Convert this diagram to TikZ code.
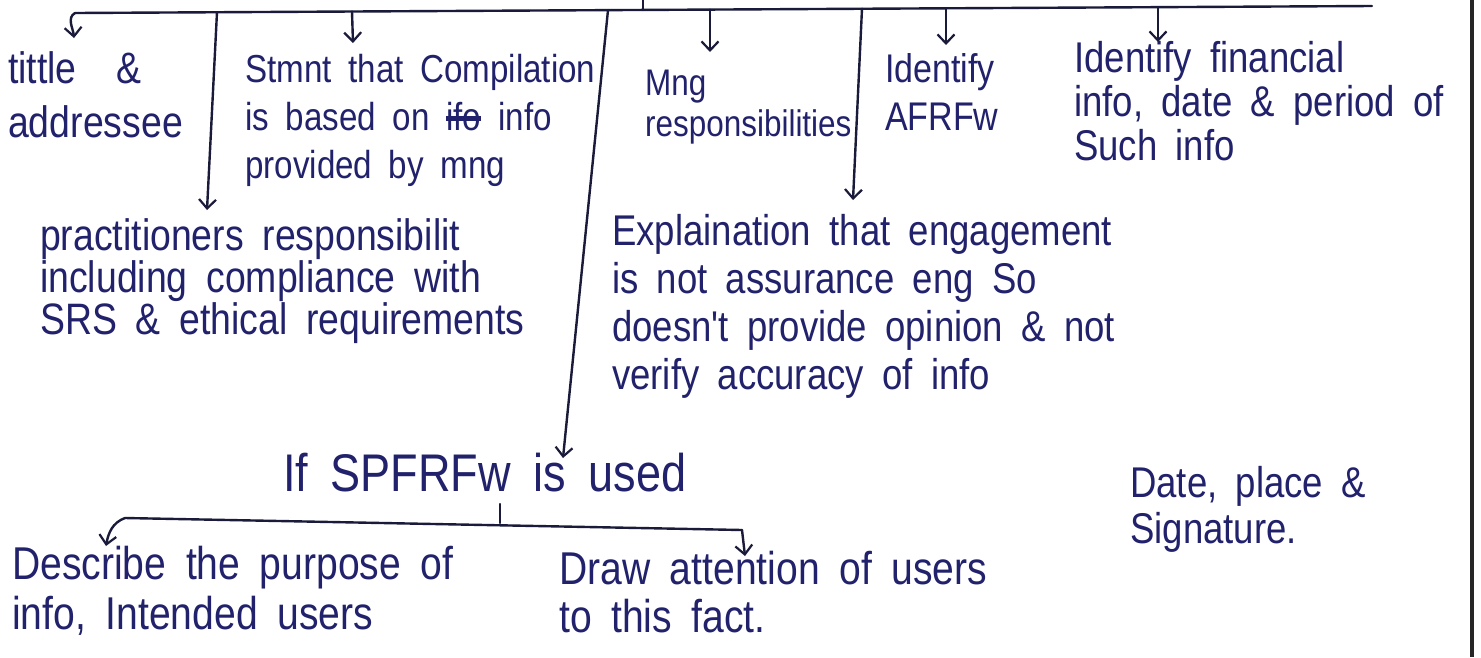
\documentclass[tikz,border=0pt]{standalone}
\usepackage{fontspec}
\setmainfont{Liberation Sans}
\newfontfamily\hand[FakeStretch=0.85,WordSpace=1.8]{Liberation Sans}
\usetikzlibrary{arrows.meta}
\definecolor{ink}{RGB}{34,34,108}
\definecolor{pen}{RGB}{26,26,58}
\newcommand\mystk[1]{\setbox0\hbox{#1}\rlap{\raisebox{0.25em}{\rule{\wd0}{0.12em}}}\box0}
\tikzset{
  hw/.style 2 args={font=\hand\fontsize{#1}{#2}\selectfont, text=ink, align=left, anchor=north west, inner sep=0pt},
  ln/.style={draw=pen, line width=2.4pt, line cap=round, line join=round},
  arr/.style={ln, -{Straight Barb[length=9pt,width=17pt,line width=2.2pt]}},
}
\begin{document}
\begin{tikzpicture}[x=1pt,y=-1pt]
\fill[white] (0,0) rectangle (1481,657);
\useasboundingbox (0,0) rectangle (1481,657);

% text nodes (positions: top of first line = baseline - 0.73*size)
\node[hw={44}{54}] (tit) at (8,51) {tittle\hspace{0.9em}\&\\addressee};
\node[hw={39}{48}] (stm) at (245,54) {Stmnt that Compilation\\is based on \mystk{ifo}\hspace{0.45em}info\\provided by mng};
\node[hw={37}{41}] (mng) at (645,70) {Mng\\responsibilities};
\node[hw={40}{48}] (ida) at (885,53) {Identify\\AFRFw};
\node[hw={43}{44}] (idf) at (1074,41) {Identify financial\\info, date \& period of\\Such info};
\node[hw={44}{42}] (pra) at (40,218) {practitioners responsibilit\\including compliance with\\SRS \& ethical requirements};
\node[hw={43}{48}] (exp) at (612,214) {Explaination that engagement\\is not assurance eng So\\doesn't provide opinion \& not\\verify accuracy of info};
\node[hw={53}{50}] (ifs) at (283,453) {If SPFRFw is used};
\node[hw={43}{46}] (dat) at (1130,466) {Date, place \&\\Signature.};
\node[hw={46}{50}] (des) at (12,546) {Describe the purpose of\\info, Intended users};
\node[hw={46}{48}] (dra) at (559,551) {Draw attention of users\\to this fact.};

% top bar and its branches
\coordinate (root) at (643,0);
\coordinate (rootb) at (643,9.9);
\coordinate (barL) at (75,13);
\coordinate (barR) at (1372,6);
\coordinate (tTit) at (74,38);
\coordinate (sPra) at (217,12.2);
\coordinate (tPra) at (207,210);
\coordinate (sStm) at (352,11.5);
\coordinate (tStm) at (353,43);
\coordinate (sIfs) at (608,10.1);
\coordinate (tIfs) at (563,458);
\coordinate (sMng) at (710,9.6);
\coordinate (tMng) at (710,52);
\coordinate (sExp) at (862,8.7);
\coordinate (tExp) at (853,200);
\coordinate (sIda) at (946,8.3);
\coordinate (tIda) at (946,45);
\coordinate (sIdf) at (1158,7.2);
\coordinate (tIdf) at (1158,42);
% bottom bar
\coordinate (stubT) at (500,504);
\coordinate (stubB) at (500,523);
\coordinate (bL) at (125,518);
\coordinate (bR) at (742,530);
\coordinate (tDes) at (106,546);
\coordinate (tDra) at (745,556);
% page edge
\coordinate (edgeT) at (1472,0);
\coordinate (edgeB) at (1472,657);

\draw[ln] (root) -- (rootb);
\draw[ln] (barL) -- (barR);
\draw[arr] (barL) to[out=-150,in=95] (tTit);
\draw[arr] (sPra) -- (tPra);
\draw[arr] (sStm) -- (tStm);
\draw[arr] (sIfs) -- (tIfs);
\draw[arr] (sMng) -- (tMng);
\draw[arr] (sExp) -- (tExp);
\draw[arr] (sIda) -- (tIda);
\draw[arr] (sIdf) -- (tIdf);

\draw[ln] (stubT) -- (stubB);
\draw[ln] (bL) -- (bR);
\draw[arr] (bL) to[out=-160,in=80] (tDes);
\draw[arr] (bR) -- (tDra);

\draw[draw=black!85, line width=3.5pt] (edgeT) -- (edgeB);
\end{tikzpicture}
\end{document}
